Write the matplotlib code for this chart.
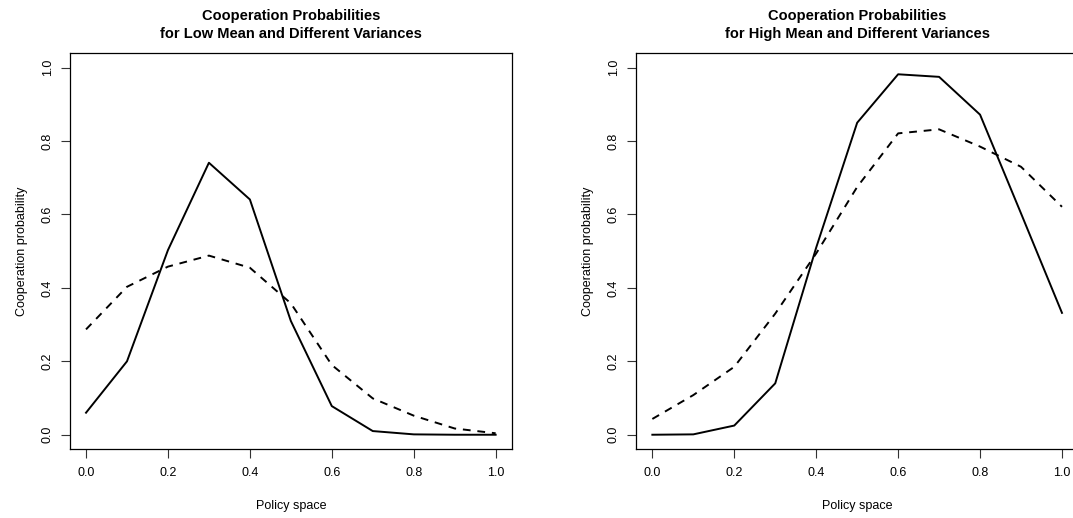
import matplotlib
matplotlib.use("Agg")
import matplotlib.pyplot as plt

plt.rcParams["font.family"] = ["Liberation Sans", "DejaVu Sans"]

policy = [0.0, 0.1, 0.2, 0.3, 0.4, 0.5, 0.6, 0.7, 0.8, 0.9, 1.0]

# low mean: solid = low variance, dashed = high variance
low_solid = [0.06, 0.20, 0.503, 0.741, 0.641, 0.31, 0.078, 0.01, 0.001, 0.0, 0.0]
low_dashed = [0.287, 0.403, 0.458, 0.488, 0.455, 0.358, 0.19, 0.099, 0.052, 0.017, 0.004]

# high mean
high_solid = [0.0, 0.001, 0.025, 0.14, 0.51, 0.85, 0.982, 0.975, 0.872, 0.603, 0.332]
high_dashed = [0.043, 0.108, 0.185, 0.33, 0.494, 0.675, 0.821, 0.832, 0.785, 0.73, 0.621]

titles = [
    "Cooperation Probabilities\nfor Low Mean and Different Variances",
    "Cooperation Probabilities\nfor High Mean and Different Variances",
]
ticks = [0.0, 0.2, 0.4, 0.6, 0.8, 1.0]

fig = plt.figure(figsize=(10.73, 5.18), dpi=100)
ax1 = fig.add_axes([0.0649, 0.1324, 0.4123, 0.7653])
ax2 = fig.add_axes([0.5927, 0.1324, 0.4123, 0.7653])

for ax, solid, dashed, title in [
    (ax1, low_solid, low_dashed, titles[0]),
    (ax2, high_solid, high_dashed, titles[1]),
]:
    ax.plot(policy, solid, color="black", lw=1.4)
    ax.plot(policy, dashed, color="black", lw=1.4, dashes=(4, 3.5))
    ax.set_xlim(-0.04, 1.04)
    ax.set_ylim(-0.04, 1.04)
    ax.set_xticks(ticks)
    ax.set_yticks(ticks)
    ax.set_xticklabels([f"{v:.1f}" for v in ticks])
    ax.set_yticklabels([f"{v:.1f}" for v in ticks], rotation=90, va="center")
    ax.tick_params(direction="out", length=6.5, width=0.8, labelsize=9,
                   color="#333333")
    ax.tick_params(axis="x", pad=6)
    ax.tick_params(axis="y", pad=5)
    for s in ax.spines.values():
        s.set_linewidth(0.9)
    ax.set_xlabel("Policy space", fontsize=9, labelpad=15)
    ax.set_ylabel("Cooperation probability", fontsize=9, labelpad=10)
    ax.set_title(title, fontsize=10.5, fontweight="bold", pad=11, linespacing=1.3)

fig.savefig("out.png", dpi=100)
